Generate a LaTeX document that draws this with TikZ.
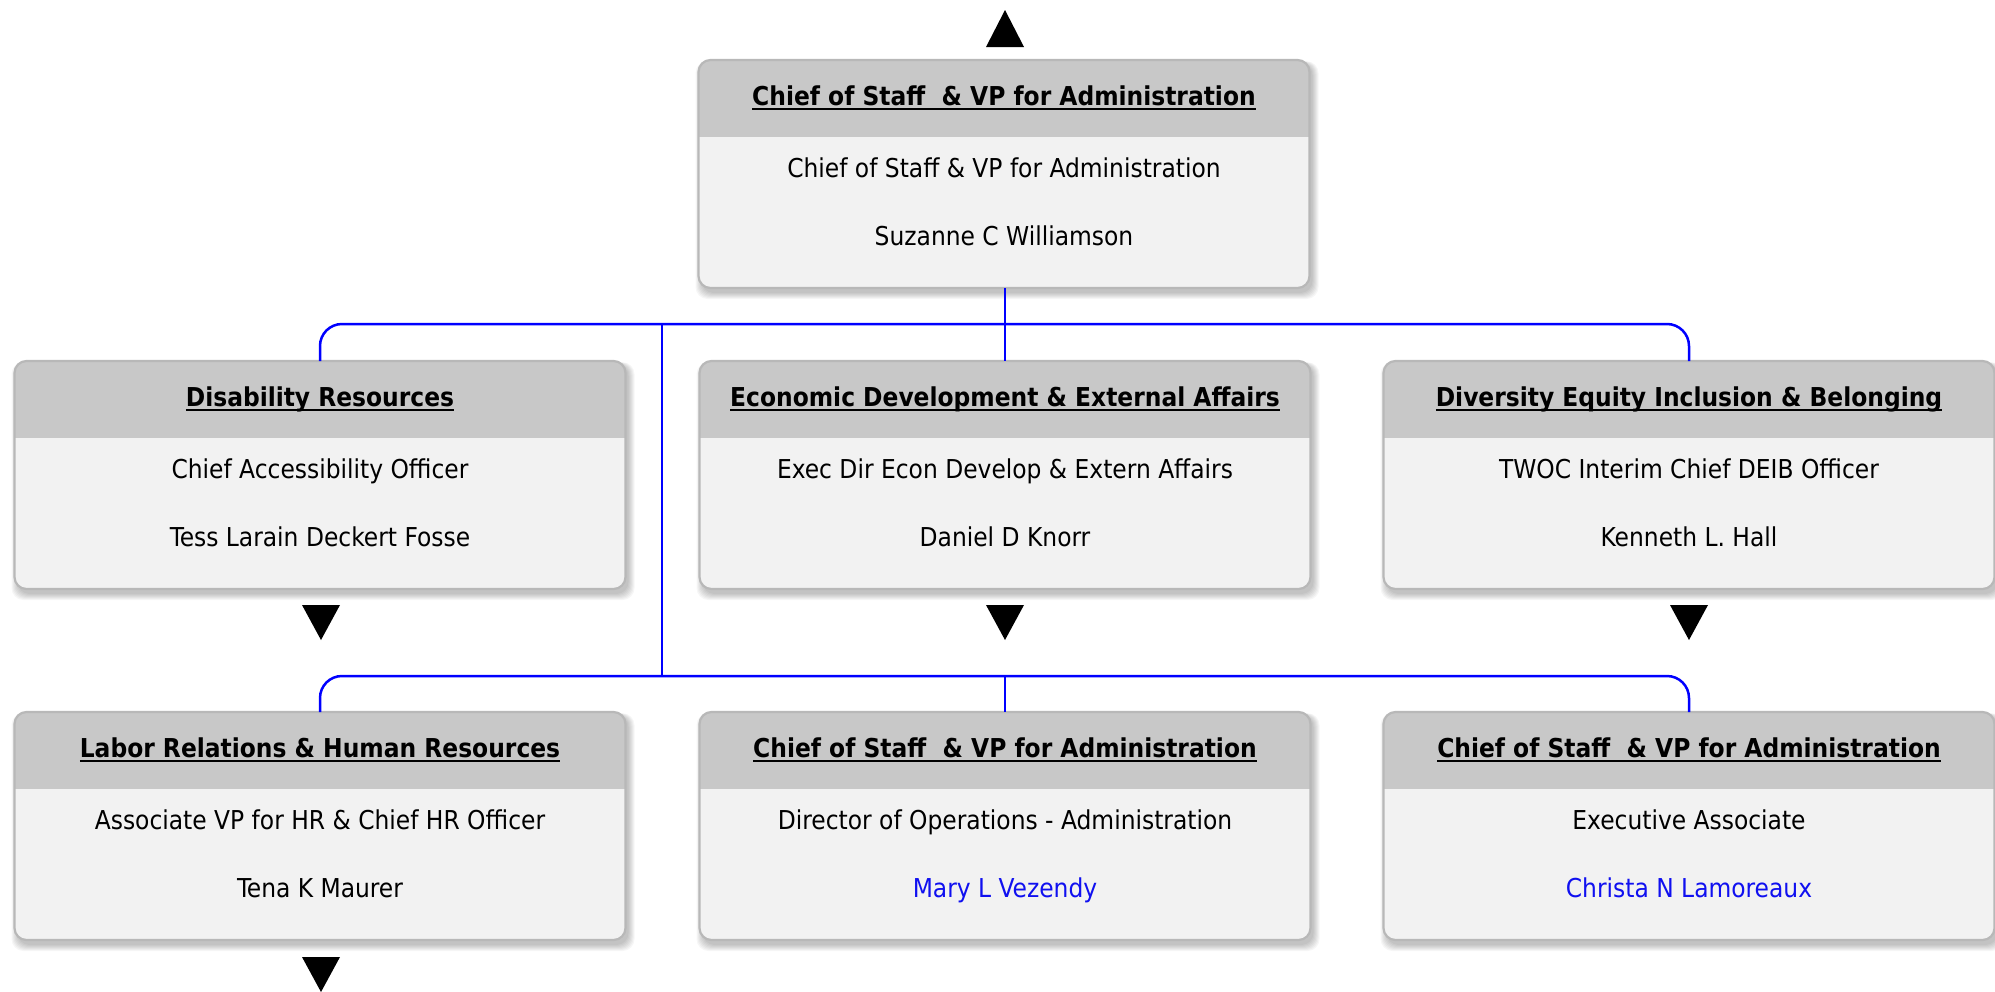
\documentclass[tikz,border=0pt]{standalone}
\usepackage{fontspec}
\setmainfont{DejaVu Sans Condensed}
\definecolor{hdrgray}{HTML}{C8C8C8}
\definecolor{bodygray}{HTML}{F2F2F2}
\definecolor{bordergray}{HTML}{B8B8B8}
\definecolor{linkblue}{HTML}{0000FF}
\definecolor{nameblue}{HTML}{1010F0}
\newcommand\ulin[1]{{\setbox0\hbox{#1}\rlap{\rule[-4.5pt]{\wd0}{2pt}}\box0}}
\newcommand\orgbox[7]{%
  \node[orgshape, anchor=north] (#1) at (#2,#3) {};
  \foreach \s in {0,1,...,6} {
    \fill[black, opacity=0.035, rounded corners=12pt]
      ([xshift={(3-\s)*1pt}, yshift={(-5-\s)*1pt}]#1.south west) rectangle ([xshift={(3+\s)*1pt}, yshift={(-3+0.3*\s)*1pt}]#1.north east);
  }
  \fill[bodygray, rounded corners=12pt] (#1.south west) rectangle (#1.north east);
  \begin{scope}
    \clip[rounded corners=12pt] (#1.south west) rectangle (#1.north east);
    \fill[hdrgray] (#1.north west) rectangle ([yshift=-77pt]#1.north east);
  \end{scope}
  \draw[bordergray, line width=2.2pt, rounded corners=12pt] (#1.south west) rectangle (#1.north east);
  \node[txt, anchor=base, font=\fontsize{26}{30}\selectfont\bfseries] (#1-t) at (#2,#3+45) {\ulin{#4}};
  \node[txt, anchor=base] (#1-a) at (#2,#3+117) {#5};
  \node[txt, anchor=base, text=#7] (#1-b) at (#2,#3+185) {#6};
}
\tikzset{
  orgshape/.style={rectangle, minimum width=611pt, minimum height=228pt,
    inner sep=0pt, outer sep=0pt},
  txt/.style={inner sep=0pt, outer sep=0pt},
  conn/.style={draw=linkblue, line width=2.5pt},
  tri/.style={fill=black, draw=none}
}
\begin{document}
\begin{tikzpicture}[x=1pt, y=-1pt, every node/.style={font=\fontsize{26}{30}\selectfont}]
\useasboundingbox[fill=white] (0,0) rectangle (1995,991);
\orgbox{top}{1004}{60}{Chief of Staff\ \ \& VP for Administration}{Chief of Staff \& VP for Administration}{Suzanne C Williamson}{black}
\orgbox{n1}{320}{361}{Disability Resources}{Chief Accessibility Officer}{Tess Larain Deckert Fosse}{black}
\orgbox{n2}{1005}{361}{Economic Development \& External Affairs}{Exec Dir Econ Develop \& Extern Affairs}{Daniel D Knorr}{black}
\orgbox{n3}{1689}{361}{Diversity Equity Inclusion \& Belonging}{TWOC Interim Chief DEIB Officer}{Kenneth L. Hall}{black}
\orgbox{n4}{320}{712}{Labor Relations \& Human Resources}{Associate VP for HR \& Chief HR Officer}{Tena K Maurer}{black}
\orgbox{n5}{1005}{712}{Chief of Staff\ \ \& VP for Administration}{Director of Operations - Administration}{Mary L Vezendy}{nameblue}
\orgbox{n6}{1689}{712}{Chief of Staff\ \ \& VP for Administration}{Executive Associate}{Christa N Lamoreaux}{nameblue}
% bus coordinates
\coordinate (b1) at (1005,324);
\coordinate (v1) at (662,324);
\coordinate (v2) at (662,676);
% connectors
\draw[conn, rounded corners=22pt] (n1.north) |- (b1) -| (n3.north);
\draw[conn] (top.south -| b1) -- (n2.north);
\draw[conn] (v1) -- (v2);
\draw[conn, rounded corners=22pt] (n4.north) |- (v2) -| (n6.north);
\draw[conn] (n5.north |- v2) -- (n5.north);
% expand / collapse triangles
\fill[tri] (986,47) -- (1024,47) -- (1005,10) -- cycle;
\fill[tri] (302,605) -- (340,605) -- (321,640) -- cycle;
\fill[tri] (986,605) -- (1024,605) -- (1005,640) -- cycle;
\fill[tri] (1670,605) -- (1708,605) -- (1689,640) -- cycle;
\fill[tri] (302,957) -- (340,957) -- (321,992) -- cycle;
\end{tikzpicture}
\end{document}
